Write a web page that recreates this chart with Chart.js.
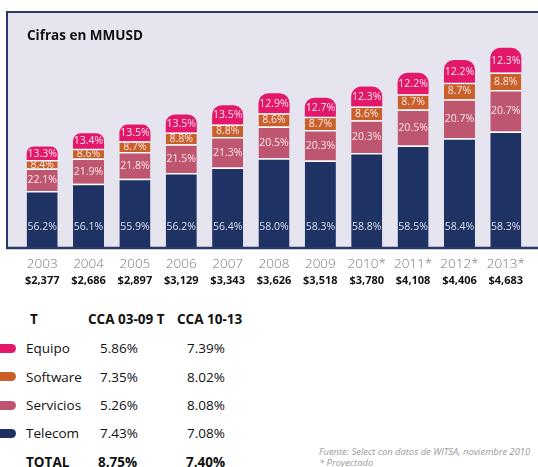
<!DOCTYPE html>
<html>
<head>
<meta charset="utf-8">
<script src="https://cdn.jsdelivr.net/npm/chart.js@4.4.1/dist/chart.umd.min.js"></script>
<style>
  html, body { margin:0; padding:0; background:#fff; }
  body { width:538px; height:467px; position:relative; overflow:hidden; font-family:"Open Sans", "Noto Sans", sans-serif; }
  #wrap { position:absolute; left:0; top:0; width:538px; height:300px; }
  .t { position:absolute; white-space:nowrap; line-height:16px; color:#111; }
  .b { font-weight:bold; }
  .sw { position:absolute; left:0; width:16px; height:9px; border-radius:0 5px 5px 0; }
  .src { position:absolute; left:319px; font-style:italic; color:#9a9a9a; font-size:9.4px; line-height:11px; white-space:nowrap; }
</style>
</head>
<body>
<div id="wrap"><canvas id="c" width="538" height="300"></canvas></div>
<div class="t b" style="left:27px; top:27px; font-size:13.5px;">Cifras en MMUSD</div>
<div id="table"></div>
<div class="src" style="top:446px;">Fuente: Select con datos de WITSA, noviembre 2010</div>
<div class="src" style="top:457px;">* Proyectado</div>
<script>
// ---- chart data ----
const years = ['2003','2004','2005','2006','2007','2008','2009','2010*','2011*','2012*','2013*'];
const totals = [2377, 2686, 2897, 3129, 3343, 3626, 3518, 3780, 4108, 4406, 4683];
const totalLabels = ['$2,377','$2,686','$2,897','$3,129','$3,343','$3,626','$3,518','$3,780','$4,108','$4,406','$4,683'];
const pctTelecom   = [56.2, 56.1, 55.9, 56.2, 56.4, 58.0, 58.3, 58.8, 58.5, 58.4, 58.3];
const pctServicios = [22.1, 21.9, 21.8, 21.5, 21.3, 20.5, 20.3, 20.3, 20.5, 20.7, 20.7];
const pctSoftware  = [8.4, 8.6, 8.7, 8.8, 8.8, 8.6, 8.7, 8.6, 8.7, 8.7, 8.8];
const pctEquipo    = [13.3, 13.4, 13.5, 13.5, 13.5, 12.9, 12.7, 12.3, 12.2, 12.2, 12.3];

// ---- table data ----
const tableCategories = ['Equipo', 'Software', 'Servicios', 'Telecom'];
const cca0309 = ['5.86%', '7.35%', '5.26%', '7.43%'];
const cca1013 = ['7.39%', '8.02%', '8.08%', '7.08%'];
const totalCca0309 = '8.75%';
const totalCca1013 = '7.40%';

const COLORS = {
  Telecom: '#1f3264',
  Servicios: '#bf5670',
  Software: '#c9602a',
  Equipo: '#e3186a'
};

// build table
(function(){
  const t = document.getElementById('table');
  function add(txt, left, center, cls, size) {
    const d = document.createElement('div');
    d.className = 't ' + (cls || '');
    d.style.left = left + 'px';
    d.style.top = (center - 8) + 'px';
    d.style.fontSize = (size || 13.5) + 'px';
    d.textContent = txt;
    t.appendChild(d);
  }
  add('T', 30, 319, 'b');
  add('CCA 03-09 T', 88, 319, 'b');
  add('CCA 10-13', 177, 319, 'b');
  const rowY = [348, 376.5, 405, 433];
  tableCategories.forEach((c, i) => {
    const sw = document.createElement('div');
    sw.className = 'sw';
    sw.style.top = (rowY[i] - 4.5) + 'px';
    sw.style.background = COLORS[c];
    t.appendChild(sw);
    add(c, 26, rowY[i]);
    add(cca0309[i], 100, rowY[i]);
    add(cca1013[i], 187, rowY[i]);
  });
  add('TOTAL', 26, 462, 'b');
  add(totalCca0309, 98, 462, 'b');
  add(totalCca1013, 186, 462, 'b');
})();

const seg = (pct) => totals.map((t, i) => t * pct[i] / 100);

const framePlugin = {
  id: 'frame',
  beforeDraw(chart) {
    const ctx = chart.ctx;
    const b = chart.chartArea.bottom;
    ctx.save();
    ctx.fillStyle = '#e6e4ee';
    ctx.fillRect(6, 11, chart.width - 6, b - 11);
    ctx.strokeStyle = '#2a3a68';
    ctx.lineWidth = 2;
    ctx.beginPath();
    ctx.moveTo(chart.width, 12);
    ctx.lineTo(7, 12);
    ctx.lineTo(7, b);
    ctx.stroke();
    ctx.restore();
  },
  afterDatasetsDraw(chart) {
    const ctx = chart.ctx;
    const b = chart.chartArea.bottom;
    ctx.save();
    ctx.strokeStyle = '#2a3a68';
    ctx.lineWidth = 2.5;
    ctx.beginPath();
    ctx.moveTo(6, b);
    ctx.lineTo(chart.width, b);
    ctx.stroke();

    // percentage labels
    const pcts = [pctTelecom, pctServicios, pctSoftware, pctEquipo];
    ctx.font = '10.5px "Open Sans", "Noto Sans", sans-serif';
    ctx.textAlign = 'center';
    ctx.textBaseline = 'middle';
    chart.data.datasets.forEach((ds, di) => {
      const meta = chart.getDatasetMeta(di);
      meta.data.forEach((el, i) => {
        let y;
        if (di === 0) { y = el.base - 21; ctx.fillStyle = 'rgba(225,228,240,0.95)'; }
        else { y = (el.y + el.base) / 2 + 0.5; ctx.fillStyle = 'rgba(255,238,242,0.95)'; }
        ctx.fillText(pcts[di][i].toFixed(1) + '%', el.x, y);
      });
    });

    // totals under years
    const xs = chart.scales.x;
    ctx.fillStyle = '#111';
    ctx.font = 'bold 11px "Open Sans", "Noto Sans", sans-serif';
    totalLabels.forEach((lab, i) => {
      ctx.fillText(lab, xs.getPixelForValue(i), 281);
    });
    ctx.restore();
  }
};

new Chart(document.getElementById('c'), {
  type: 'bar',
  data: {
    labels: years,
    datasets: [
      { label: 'Telecom', data: seg(pctTelecom), backgroundColor: COLORS.Telecom,
        borderColor: '#ffffff', borderWidth: { top: 1.5, left: 0, right: 0, bottom: 0 } },
      { label: 'Servicios', data: seg(pctServicios), backgroundColor: COLORS.Servicios,
        borderColor: '#ffffff', borderWidth: { top: 1.5, left: 0, right: 0, bottom: 0 } },
      { label: 'Software', data: seg(pctSoftware), backgroundColor: COLORS.Software,
        borderColor: '#ffffff', borderWidth: { top: 1.5, left: 0, right: 0, bottom: 0 } },
      { label: 'Equipo', data: seg(pctEquipo), backgroundColor: COLORS.Equipo,
        borderWidth: 0, borderRadius: { topLeft: 10, topRight: 10, bottomLeft: 0, bottomRight: 0 },
        borderSkipped: false }
    ]
  },
  options: {
    responsive: false,
    animation: false,
    layout: { padding: { left: 19, right: 9, top: 20, bottom: 12 } },
    datasets: { bar: { categoryPercentage: 1, barPercentage: 0.67 } },
    plugins: { legend: { display: false }, tooltip: { enabled: false }, title: { display: false } },
    scales: {
      x: {
        stacked: true,
        grid: { display: false },
        border: { display: false },
        ticks: { color: '#7a7a7a', font: { size: 13.5, weight: 300, family: '"Open Sans", "Noto Sans", sans-serif' }, padding: 0, maxRotation: 0, autoSkip: false },
        afterFit(scale) { scale.height = 40; }
      },
      y: { stacked: true, display: false, min: 0, max: 5340 }
    }
  },
  plugins: [framePlugin]
});
</script>
</body>
</html>
